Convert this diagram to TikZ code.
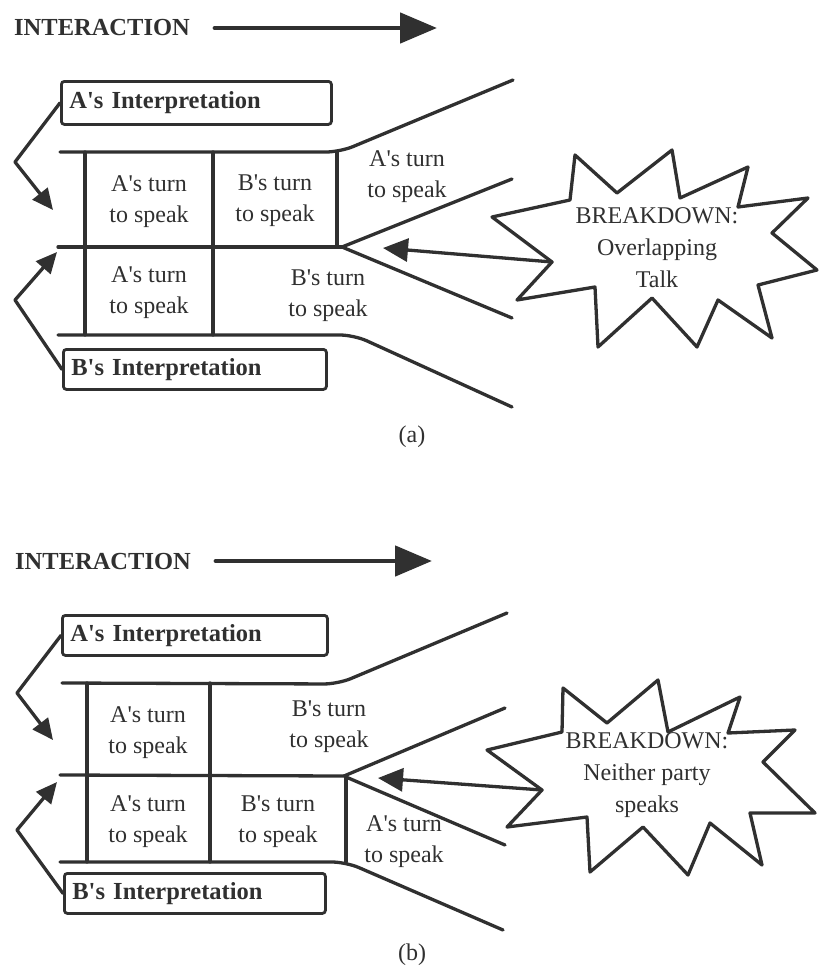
\documentclass[tikz,border=0pt]{standalone}
\usepackage{fontspec}
\setmainfont{Liberation Serif}
\usetikzlibrary{arrows.meta}
\definecolor{ink}{HTML}{303030}
\newcommand{\apos}{\textquotesingle}
\tikzset{
  rule/.style={draw=ink, line width=3.3pt, line cap=round, line join=round},
  channel/.style={rule, rounded corners=14pt},
  turntext/.style={font=\fontsize{24}{31}\selectfont, align=center, text=ink, inner sep=0pt},
  bursttext/.style={font=\fontsize{24}{32}\selectfont, align=center, text=ink, inner sep=0pt},
  headtext/.style={font=\bfseries\fontsize{24.5}{30}\selectfont, text=ink, inner sep=0pt, anchor=west},
  caption/.style={font=\fontsize{24}{30}\selectfont, text=ink, inner sep=0pt},
  interp/.style={draw=ink, line width=2.8pt, rounded corners=3pt,
    font=\bfseries\fontsize{24.5}{30}\selectfont, text=ink, align=left,
    inner xsep=8pt, inner ysep=0pt, anchor=north west},
  flowarrow/.style={rule, line width=4.8pt, -{Triangle[length=37pt,width=30pt]}},
  sidearrow/.style={rule, -{Triangle[length=21pt,width=19pt]}},
  burstarrow/.style={rule, -{Triangle[length=25pt,width=23pt]}},
}
\begin{document}
\begin{tikzpicture}[x=1pt,y=-1pt]
\useasboundingbox (0,0) rectangle (819,974);

% ---------------- (a) overlapping talk ----------------
\node[headtext] (intA) at (14,28) {INTERACTION};
\coordinate (intAtip) at (437,28);
\draw[flowarrow] ([xshift=25pt]intA.east) -- (intAtip);

\node[interp, text width=254pt, minimum height=43pt] (aIntA) at (60,80) {A\apos s Interpretation};
\node[interp, text width=247pt, minimum height=40pt] (bIntA) at (62,348) {B\apos s Interpretation};

% turn-taking channels
\draw[channel] (60,152) -- (340,152) -- (513,80);
\draw[rule] (58,247) -- (342,247);
\draw[rule] (342,247) -- (512,179);
\draw[rule] (342,247) -- (512,318);
\draw[channel] (58,335) -- (354,335) -- (512,407);
\draw[rule] (85,152) -- (85,335);
\draw[rule] (213,152) -- (213,335);
\draw[rule] (337,152) -- (337,247);

\node[turntext] (a11) at (149,202) {A\apos s turn\\to speak};
\node[turntext] (a12) at (275,201) {B\apos s turn\\to speak};
\node[turntext] (a13) at (407,177) {A\apos s turn\\to speak};
\node[turntext] (a21) at (149,293) {A\apos s turn\\to speak};
\node[turntext] (a22) at (328,296) {B\apos s turn\\to speak};

% interpretations feed the channels
\coordinate (aKnee) at (15,162);
\coordinate (aTip) at (53,210);
\draw[sidearrow] (aIntA.west) -- (aKnee) -- (aTip);
\coordinate (bKnee) at (15,300);
\coordinate (bTip) at (57,252);
\draw[sidearrow] (bIntA.west) -- (bKnee) -- (bTip);

% breakdown burst
\draw[rule] (492,217) -- (570,200) -- (575,155) -- (617,193) -- (672,150) -- (680,198)
  -- (748,167) -- (738,207) -- (808,198) -- (772,233) -- (817,270) -- (758,285)
  -- (772,338) -- (718,300) -- (697,347) -- (652,298) -- (598,347) -- (595,287)
  -- (517,300) -- (552,262) -- cycle;
\coordinate (burstA) at (552,262);
\coordinate (burstAtip) at (383,248);
\node[bursttext] (bdA) at (657,248) {BREAKDOWN:\\Overlapping\\Talk};
\draw[burstarrow] (burstA) -- (burstAtip);

\node[caption] (capA) at (412,437) {(a)};

% ---------------- (b) neither party speaks ----------------
\node[headtext] (intB) at (15,562) {INTERACTION};
\coordinate (intBtip) at (432,561);
\draw[flowarrow] ([xshift=25pt]intB.east |- intBtip) -- (intBtip);

\node[interp, text width=249pt, minimum height=40pt] (aIntB) at (61,614) {A\apos s Interpretation};
\node[interp, text width=245pt, minimum height=40pt] (bIntB) at (63,872) {B\apos s Interpretation};

% turn-taking channels
\draw[channel] (62,683) -- (338,684) -- (507,613);
\draw[rule] (60,775) -- (344,776);
\draw[rule] (344,776) -- (505,708);
\draw[rule] (346,777) -- (505,845);
\draw[channel] (60,862) -- (346,862) -- (503,930);
\draw[rule] (87,683) -- (87,862);
\draw[rule] (210,683) -- (210,862);
\draw[rule] (346,776) -- (346,862);

\node[turntext] (b11) at (148,733) {A\apos s turn\\to speak};
\node[turntext] (b12) at (329,727) {B\apos s turn\\to speak};
\node[turntext] (b21) at (148,822) {A\apos s turn\\to speak};
\node[turntext] (b22) at (278,822) {B\apos s turn\\to speak};
\node[turntext] (b23) at (404,842) {A\apos s turn\\to speak};

% interpretations feed the channels
\coordinate (aKneeB) at (17,693);
\coordinate (aTipB) at (53,740);
\draw[sidearrow] (aIntB.west) -- (aKneeB) -- (aTipB);
\coordinate (bKneeB) at (17,830);
\coordinate (bTipB) at (57,782);
\draw[sidearrow] (bIntB.west) -- (bKneeB) -- (bTipB);

% breakdown burst
\draw[rule] (487,750) -- (562,732) -- (563,688) -- (607,723) -- (658,680) -- (668,732)
  -- (740,697) -- (728,733) -- (795,730) -- (763,762) -- (815,813) -- (750,813)
  -- (762,865) -- (710,823) -- (688,875) -- (643,827) -- (590,872) -- (587,817)
  -- (507,827) -- (542,790) -- cycle;
\coordinate (burstB) at (542,790);
\coordinate (burstBtip) at (378,778);
\node[bursttext] (bdB) at (647,775) {BREAKDOWN:\\Neither party\\speaks};
\draw[burstarrow] (burstB) -- (burstBtip);

\node[caption] (capB) at (412,955) {(b)};
\end{tikzpicture}
\end{document}
